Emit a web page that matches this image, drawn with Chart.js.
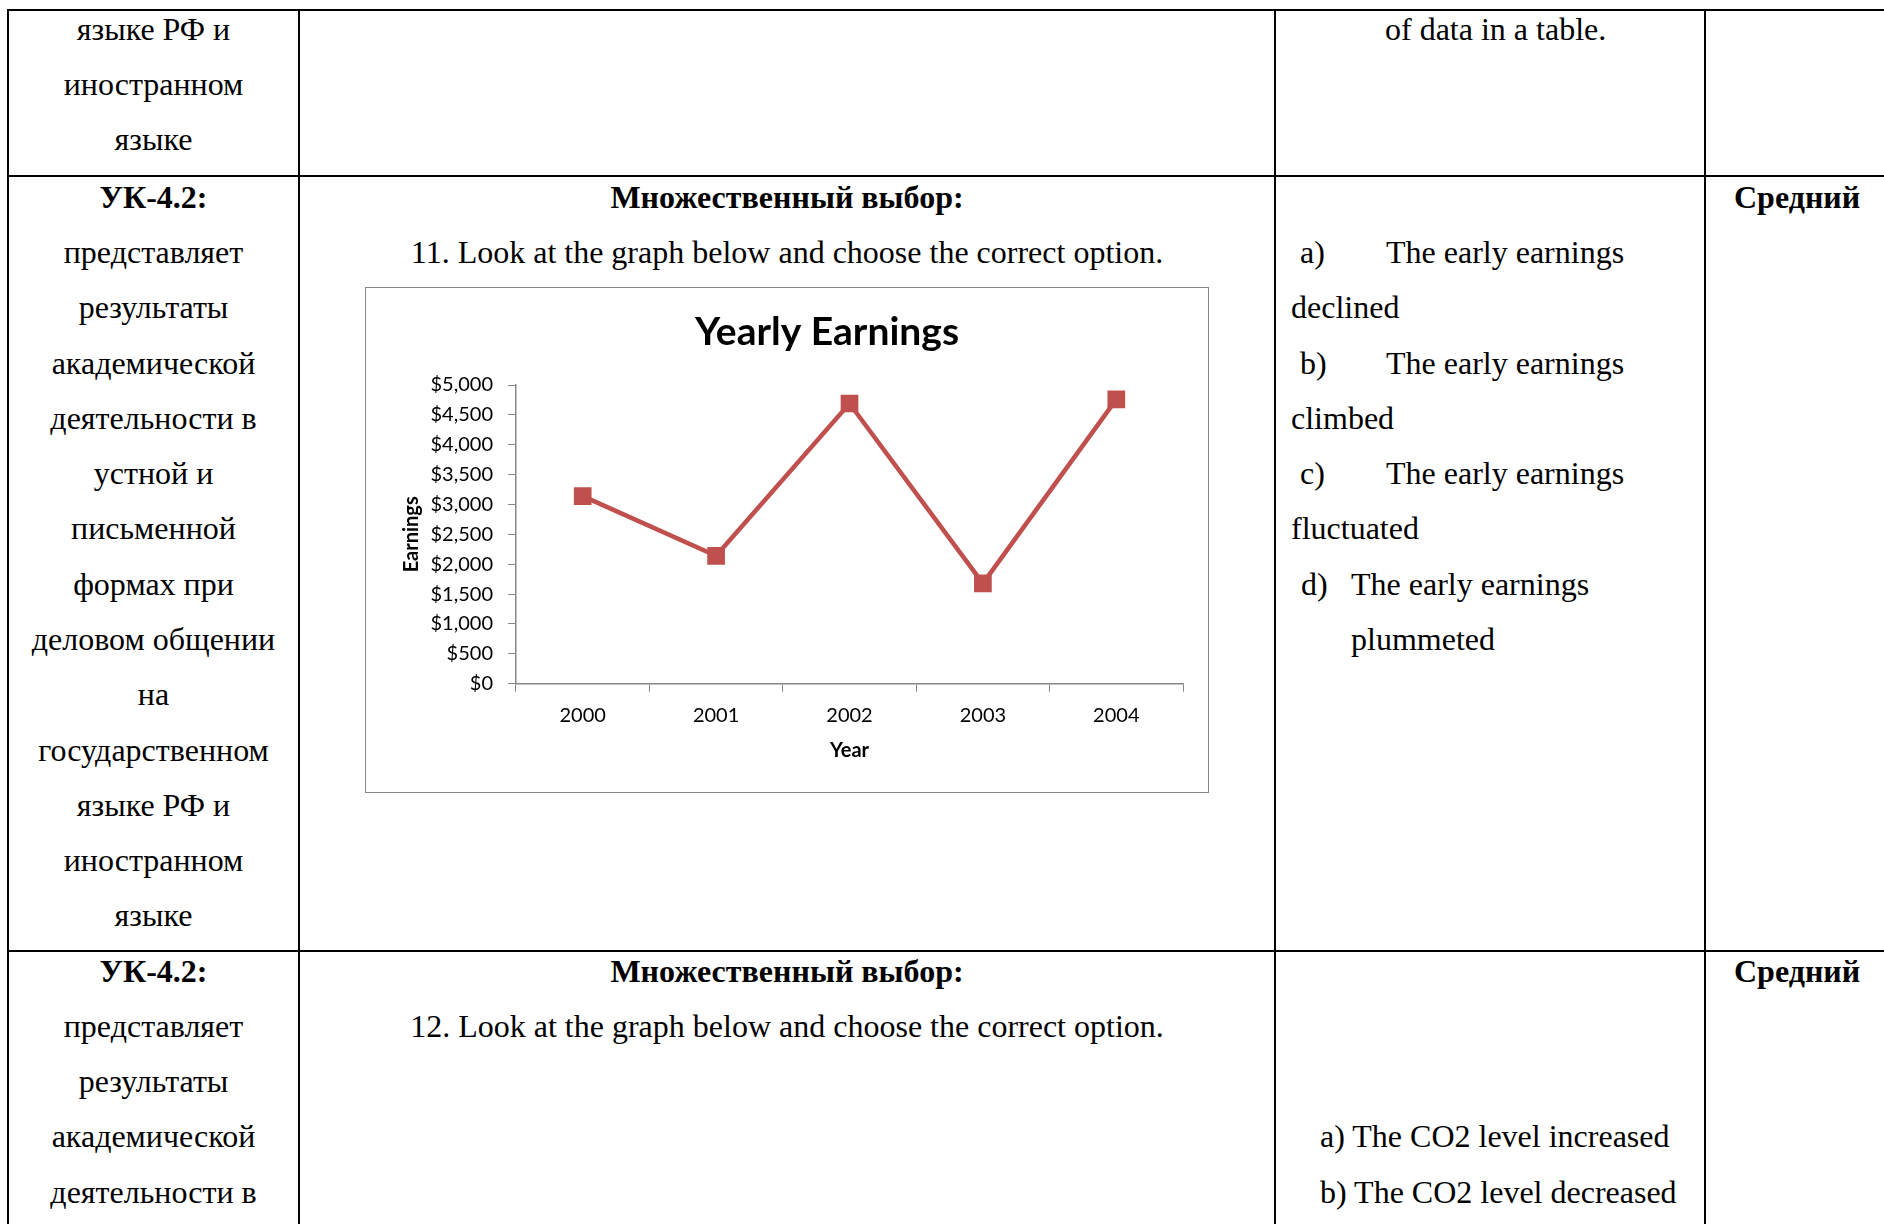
<!DOCTYPE html>
<html>
<head>
<meta charset="utf-8">
<script src="https://cdn.jsdelivr.net/npm/chart.js@4.4.0/dist/chart.umd.min.js"></script>
<style>
    body { margin: 0; width: 1884px; height: 1224px; background: #fff; overflow: hidden; position: relative;
           font-family: 'Liberation Serif', 'Times New Roman', serif; color: #000; }
    .rule { position: absolute; background: #000; }
    .txt { position: absolute; font-size: 32px; line-height: 55.27px; height: 55.27px; white-space: pre; }
    .b { font-weight: bold; }
    #chartBox { position: absolute; left: 365px; top: 287px; width: 844px; height: 506px;
                box-sizing: border-box; border: 1px solid #878787; }
    #yearlyChart { position: absolute; left: 390px; top: 288px; }
</style>
</head>
<body>
<div id="chartBox"></div>
<canvas id="yearlyChart" width="872" height="504"></canvas>
<script>
// Chart data
const years = ['2000', '2001', '2002', '2003', '2004'];
const earnings = [3140, 2140, 4690, 1680, 4760];
const yMin = 0;
const yMax = 5000;
const yStep = 500;

// Table text
const row1Col1 = ['языке РФ и', 'иностранном', 'языке'];
const row2Col1 = ['УК-4.2:', 'представляет', 'результаты', 'академической', 'деятельности в', 'устной и',
                  'письменной', 'формах при', 'деловом общении', 'на', 'государственном', 'языке РФ и',
                  'иностранном', 'языке'];
const row3Col1 = ['УК-4.2:', 'представляет', 'результаты', 'академической', 'деятельности в'];
const taskTitle = 'Множественный выбор:';
const task11 = '11. Look at the graph below and choose the correct option.';
const task12 = '12. Look at the graph below and choose the correct option.';
const level = 'Средний';
const options11 = ['declined', 'climbed', 'fluctuated', 'plummeted'];
const options12 = ['a) The CO2 level increased', 'b) The CO2 level decreased'];

const LINE = 55.27;
const ROW1_BASE = 40.2;
const ROW2_BASE = 208.3;
const ROW3_BASE = 982.1;

function addText(text, left, width, baseline, align, bold) {
    const el = document.createElement('div');
    el.className = 'txt' + (bold ? ' b' : '');
    el.textContent = text;
    el.style.left = left + 'px';
    el.style.top = (baseline - 38.44) + 'px';
    if (width) {
        el.style.width = width + 'px';
        el.style.textAlign = align;
    }
    document.body.appendChild(el);
}

function addRule(left, top, width, height) {
    const el = document.createElement('div');
    el.className = 'rule';
    el.style.left = left + 'px';
    el.style.top = top + 'px';
    el.style.width = width + 'px';
    el.style.height = height + 'px';
    document.body.appendChild(el);
}

function buildTable() {
    // grid lines
    [9, 175, 950].forEach(y => addRule(7, y, 1877, 2));
    [7, 298, 1274, 1704].forEach(x => addRule(x, 9, 2, 1215));

    const c1 = [9, 289];
    const c2 = [300, 974];

    row1Col1.forEach((t, i) => addText(t, c1[0], c1[1], ROW1_BASE + i * LINE, 'center'));
    addText('of data in a table.', 1385, 0, ROW1_BASE);

    row2Col1.forEach((t, i) => addText(t, c1[0], c1[1], ROW2_BASE + i * LINE, 'center', i === 0));
    addText(taskTitle, c2[0], c2[1], ROW2_BASE, 'center', true);
    addText(task11, c2[0], c2[1], ROW2_BASE + LINE, 'center');
    addText(level, 1734, 0, ROW2_BASE, null, true);

    ['a)', 'b)', 'c)'].forEach((letter, i) => {
        const base = ROW2_BASE + (1 + i * 2) * LINE;
        addText(letter, 1300, 0, base);
        addText('The early earnings', 1386, 0, base);
        addText(options11[i], 1291, 0, base + LINE);
    });
    addText('d)', 1301, 0, ROW2_BASE + 7 * LINE);
    addText('The early earnings', 1351, 0, ROW2_BASE + 7 * LINE);
    addText(options11[3], 1351, 0, ROW2_BASE + 8 * LINE);

    row3Col1.forEach((t, i) => addText(t, c1[0], c1[1], ROW3_BASE + i * LINE, 'center', i === 0));
    addText(taskTitle, c2[0], c2[1], ROW3_BASE, 'center', true);
    addText(task12, c2[0], c2[1], ROW3_BASE + LINE, 'center');
    addText(level, 1734, 0, ROW3_BASE, null, true);
    options12.forEach((t, i) => addText(t, 1320, 0, ROW3_BASE + (3 + i) * LINE));
}

// Yearly earnings line chart
function initChart() {
    Chart.defaults.font.family = 'Lato';
    Chart.defaults.color = '#000';
    const axisGray = '#868686';

    new Chart(document.getElementById('yearlyChart').getContext('2d'), {
        type: 'line',
        data: {
            labels: years,
            datasets: [{
                label: 'Earnings',
                data: earnings,
                borderColor: '#C0504D',
                backgroundColor: '#C0504D',
                borderWidth: 4.5,
                pointStyle: 'rect',
                pointRadius: 12.5,
                pointBorderWidth: 0,
                tension: 0
            }]
        },
        options: {
            responsive: false,
            animation: false,
            layout: {
                padding: { left: 6, right: 4, top: 0, bottom: 29.1 }
            },
            plugins: {
                legend: { display: false },
                tooltip: { enabled: false },
                title: {
                    display: true,
                    text: 'Yearly Earnings',
                    color: '#000',
                    font: { size: 39, weight: 'bold', lineHeight: 1.2 },
                    padding: { top: 20.6, bottom: 29.6 }
                }
            },
            scales: {
                x: {
                    type: 'category',
                    offset: true,
                    grid: { offset: true, drawOnChartArea: false, drawTicks: true, tickLength: 8, color: axisGray },
                    border: { color: axisGray, width: 1.5 },
                    ticks: { font: { size: 20, lineHeight: 1.2 }, padding: 11.6, maxRotation: 0 },
                    title: {
                        display: true,
                        text: 'Year',
                        font: { size: 20, weight: 'bold', lineHeight: 1.2 },
                        padding: { top: 0, bottom: 0 }
                    }
                },
                y: {
                    min: yMin,
                    max: yMax,
                    grid: { drawOnChartArea: false, drawTicks: true, tickLength: 8, color: axisGray },
                    border: { color: axisGray, width: 1.5 },
                    ticks: {
                        stepSize: yStep,
                        padding: 15,
                        font: { size: 20 },
                        callback: value => '$' + value.toLocaleString('en-US')
                    },
                    title: {
                        display: true,
                        text: 'Earnings',
                        font: { size: 20, weight: 'bold', lineHeight: 1.2 },
                        padding: { top: 4, bottom: 0 }
                    },
                    afterFit: function(scale) {
                        scale.width = 120;
                    }
                },
                // empty axis on the right, only keeps the plot narrower than the title box
                spacer: {
                    type: 'linear',
                    position: 'right',
                    ticks: { display: false },
                    grid: { display: false },
                    border: { display: false },
                    afterFit: function(scale) {
                        scale.width = 75;
                    }
                }
            }
        }
    });
}

buildTable();
initChart();
</script>
</body>
</html>
